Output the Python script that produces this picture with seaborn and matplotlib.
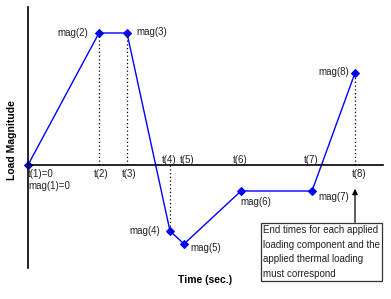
import matplotlib
matplotlib.use("Agg")
import matplotlib.pyplot as plt
import seaborn as sns
import pandas as pd

# Data (schematic units)
times = [0, 71, 99, 142, 156, 213, 284, 327]
mags = [0, 132, 132, -66, -79, -26, -26, 92]
t_labels = ["t(1)=0", "t(2)", "t(3)", "t(4)", "t(5)", "t(6)", "t(7)", "t(8)"]
mag_labels = ["mag(1)=0", "mag(2)", "mag(3)", "mag(4)", "mag(5)", "mag(6)", "mag(7)", "mag(8)"]
note = "End times for each applied\nloading component and the\napplied thermal loading\nmust correspond"

sns.set_theme(style="white")
plt.rcParams['font.family'] = ['Liberation Sans', 'DejaVu Sans']

fig = plt.figure(figsize=(3.91, 2.99), dpi=100)
ax = fig.add_axes([0, 0, 1, 1])
ax.set_xlim(-28, 363)
ax.set_ylim(-134, 165)

df = pd.DataFrame({"time": times, "mag": mags})
sns.lineplot(data=df, x="time", y="mag", ax=ax, color="#0000ff", lw=1.0,
             marker="D", markersize=4, markeredgecolor="#0000ff", sort=False)

# axes lines
for s in ["top", "right"]:
    ax.spines[s].set_visible(False)
ax.spines["left"].set_position(("data", 0))
ax.spines["bottom"].set_position(("data", 0))
ax.spines["left"].set_bounds(-103, 158)
ax.spines["bottom"].set_bounds(0, 355)
for s in ["left", "bottom"]:
    ax.spines[s].set_color("black")
    ax.spines[s].set_linewidth(1.2)
ax.set_xticks([])
ax.set_yticks([])
ax.set_xlabel("")
ax.set_ylabel("")

# dotted guides
dot = dict(color="black", ls=(0, (1, 2)), lw=0.9)
for i in [1, 2, 3, 7]:
    ax.plot([times[i], times[i]], [0, mags[i]], **dot)

tc = "#222222"
fs = 7
# time labels
ax.text(times[0], -9, t_labels[0], fontsize=fs, color=tc, ha="left", va="center")
ax.text(times[0], -21, mag_labels[0], fontsize=fs, color=tc, ha="left", va="center")
for i in [1, 2]:
    ax.text(times[i] + 2, -9, t_labels[i], fontsize=fs, color=tc, ha="center", va="center")
for i in [3, 4, 5, 6]:
    ax.text(times[i] - 1 + (4 if i == 4 else 0), 5, t_labels[i], fontsize=fs, color=tc, ha="center", va="center")
ax.text(times[7] + 4, -9, t_labels[7], fontsize=fs, color=tc, ha="center", va="center")

# magnitude labels
ax.text(times[1] - 11, mags[1], mag_labels[1], fontsize=fs, color=tc, ha="right", va="center")
ax.text(times[2] + 9, mags[2] + 1, mag_labels[2], fontsize=fs, color=tc, ha="left", va="center")
ax.text(times[3] - 10, mags[3], mag_labels[3], fontsize=fs, color=tc, ha="right", va="center")
ax.text(times[4] + 6, mags[4] - 4, mag_labels[4], fontsize=fs, color=tc, ha="left", va="center")
ax.text(times[5] - 1, mags[5] - 11, mag_labels[5], fontsize=fs, color=tc, ha="left", va="center")
ax.text(times[6] + 6, mags[6] - 6, mag_labels[6], fontsize=fs, color=tc, ha="left", va="center")
ax.text(times[7] - 6, mags[7] + 1, mag_labels[7], fontsize=fs, color=tc, ha="right", va="center")

# annotation box with arrow
ax.annotate("", xy=(times[7], -21), xytext=(times[7], -60),
            arrowprops=dict(arrowstyle="-|>", color="black", lw=0.9, mutation_scale=8))
ax.text(235, -87, note, fontsize=7, color=tc, ha="left", va="center", linespacing=1.55,
        bbox=dict(boxstyle="square,pad=0.25", fc="white", ec="#333333", lw=0.9))

# axis titles
ax.text(-16, 25, "Load Magnitude", rotation=90, fontsize=7.5, fontweight="bold",
        ha="center", va="center", color="black")
ax.text(177, -115, "Time (sec.)", fontsize=7.5, fontweight="bold",
        ha="center", va="center", color="black")

fig.savefig("out.png", dpi=100)
